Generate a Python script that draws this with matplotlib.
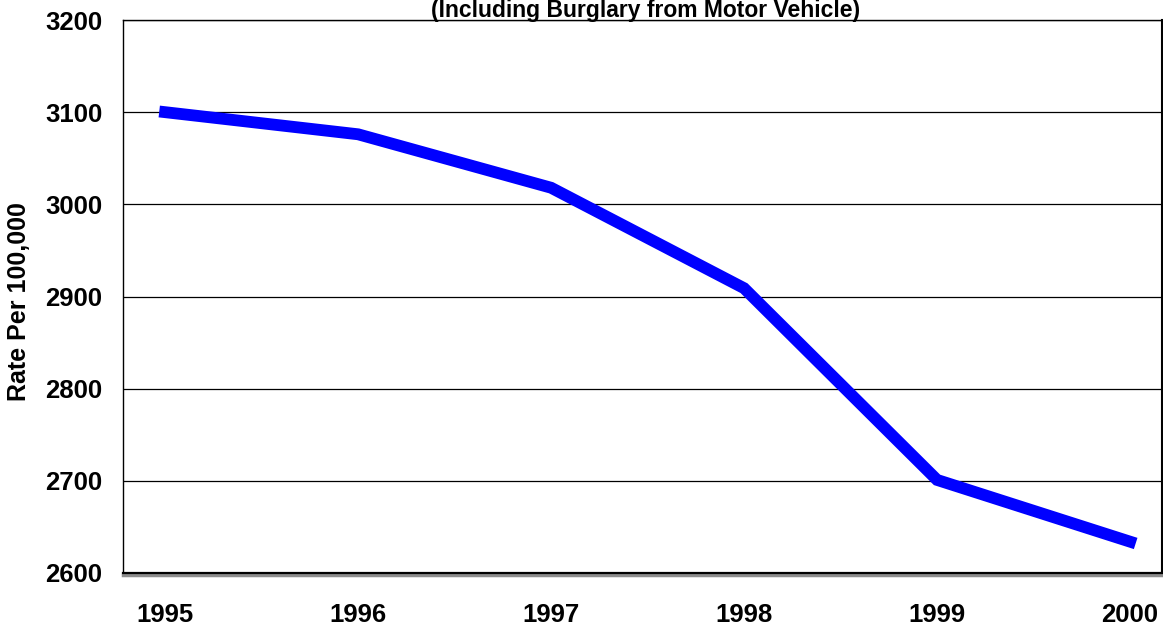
import matplotlib.pyplot as plt

# data
years = ["1995", "1996", "1997", "1998", "1999", "2000"]
rate = [3100, 3076, 3018, 2909, 2701, 2634]
y_ticks = [2600, 2700, 2800, 2900, 3000, 3100, 3200]

plt.rcParams['font.family'] = ['Liberation Sans', 'DejaVu Sans']
plt.rcParams['font.weight'] = 'bold'

fig = plt.figure(figsize=(11.63, 6.25), dpi=100)
ax = fig.add_axes([0.1058, 0.0832, 0.8934, 0.8848])

x = list(range(len(years)))
ax.plot(x, rate, color='#0000ff', linewidth=8.5, solid_joinstyle='miter', zorder=4)

ax.set_xlim(-0.218, 5.166)
ax.set_ylim(2600, 3200)
ax.set_xticks(x)
ax.set_xticklabels(years)
ax.set_yticks(y_ticks)
ax.tick_params(axis='both', length=0, labelsize=18.5)
ax.tick_params(axis='x', pad=20)
ax.tick_params(axis='y', pad=15)
for lbl in ax.get_xticklabels() + ax.get_yticklabels():
    lbl.set_fontweight('bold')

ax.yaxis.grid(True, color='black', linewidth=0.9)
ax.set_axisbelow(True)

for side in ['left', 'top']:
    ax.spines[side].set_color('black')
    ax.spines[side].set_linewidth(1.0)
ax.spines['right'].set_color('black')
ax.spines['right'].set_linewidth(1.5)
ax.spines['bottom'].set_color('#8c8c8c')
ax.spines['bottom'].set_linewidth(2.5)
ax.spines['bottom'].set_position(('outward', 1.5))
ax.axhline(2600, color='black', linewidth=1.6, zorder=3, clip_on=False)

ax.set_ylabel("Rate Per 100,000", fontsize=18, fontweight='bold')
ax.yaxis.set_label_coords(-0.089, 0.49)

# only the second title line is visible in the reference (top is cropped)
fig.text(0.555, 1 - 17 / 625, "(Including Burglary from Motor Vehicle)",
         ha='center', va='baseline', fontsize=16.5, fontweight='bold')

fig.savefig("out.png", dpi=100)
